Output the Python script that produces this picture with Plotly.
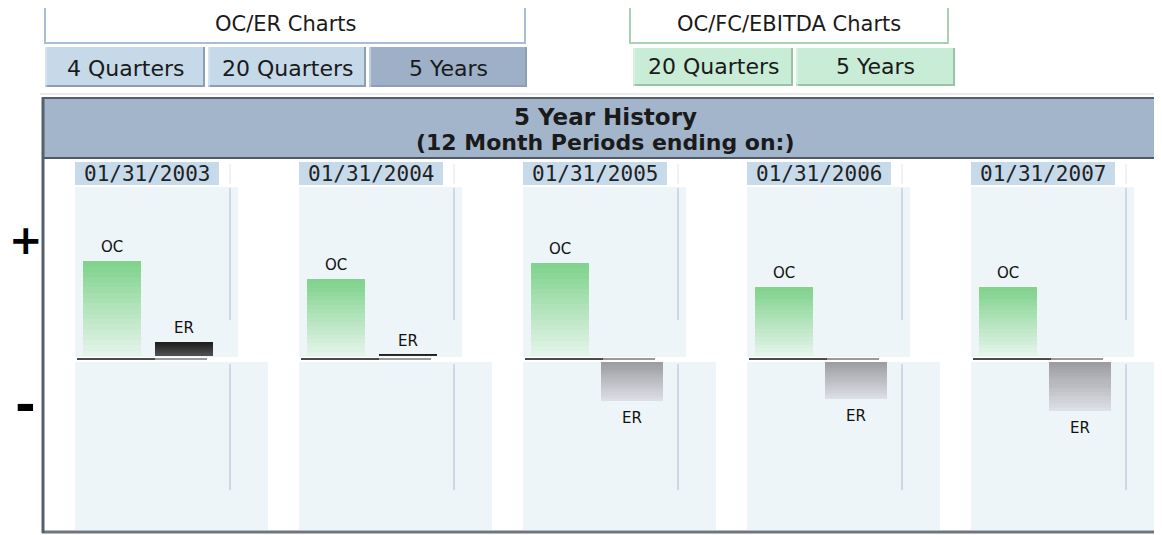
import plotly.graph_objects as go

# ---------------- data ----------------
periods = ["01/31/2003", "01/31/2004", "01/31/2005", "01/31/2006", "01/31/2007"]
oc_values = [95, 77, 93, 69, 69]
er_values = [14, 1.5, -39, -37, -49]
series_labels = ["OC", "ER"]
oc_er_buttons = ["4 Quarters", "20 Quarters", "5 Years"]
ebitda_buttons = ["20 Quarters", "5 Years"]
oc_er_title = "OC/ER Charts"
ebitda_title = "OC/FC/EBITDA Charts"
header_title = "5 Year History"
header_sub = "(12 Month Periods ending on:)"

# ---------------- layout helpers ----------------
OFF = 8                 # page body margin
W, H = 1162 - OFF, 535 - OFF
SW = 1162               # screen width (for decorations)
PITCH = 224.0           # px between period panels
FIRST_OC_PX = 112.0     # screen px centre of first OC bar
ER_OFFSET = 72.0 / PITCH


def px(x):
    return (x - OFF) / W


def py(y):
    return 1 - (y - OFF) / H


def hexmix(c1, c2, t):
    a = [int(c1[i:i + 2], 16) for i in (1, 3, 5)]
    b = [int(c2[i:i + 2], 16) for i in (1, 3, 5)]
    return "#%02x%02x%02x" % tuple(round(a[k] + (b[k] - a[k]) * t) for k in range(3))


shapes = []
annotations = []


def rect(x0, y0, x1, y1, fill, line_color=None, lw=0):
    shapes.append(dict(type="rect", xref="paper", yref="paper", layer="below",
                       x0=px(x0), x1=px(x1), y0=py(y1), y1=py(y0),
                       fillcolor=fill,
                       line=dict(color=line_color or fill, width=lw)))


def hline(x0, x1, y, color, w=1):
    shapes.append(dict(type="line", xref="paper", yref="paper", layer="below",
                       x0=px(x0), x1=px(x1), y0=py(y), y1=py(y),
                       line=dict(color=color, width=w)))


def vline(x, y0, y1, color, w=1):
    shapes.append(dict(type="line", xref="paper", yref="paper", layer="below",
                       x0=px(x), x1=px(x), y0=py(y0), y1=py(y1),
                       line=dict(color=color, width=w)))


def text(x, y, s, size, bold=False, family="DejaVu Sans", color="#1a1a1a"):
    annotations.append(dict(xref="paper", yref="paper", x=px(x), y=py(y),
                            text=("<b>%s</b>" % s) if bold else s, showarrow=False,
                            xanchor="center", yanchor="middle", borderpad=0,
                            font=dict(family=family, size=size, color=color)))


# ---------------- top buttons ----------------
rect(45, 5, 525, 43, "#ffffff", "#a9bdd6", 2)
text(285, 24, oc_er_title, 21)
btn_x = [(45, 205), (208, 366), (369, 527)]
for k, (a, b) in enumerate(btn_x):
    sel = (k == len(btn_x) - 1)
    rect(a, 47, b, 87, "#9db0c7" if sel else "#c5d9e9")
    hline(a, b, 86, "#8e9fb3", 2)
    vline(b - 1, 47, 87, "#8e9fb3", 2)
    vline(a + 1, 47, 87, "#e4eef6", 1)
    text((a + b) / 2, 68, oc_er_buttons[k], 22)

rect(630, 5, 948, 43, "#ffffff", "#a8d0b2", 2)
text(789, 24, ebitda_title, 21)
gbtn_x = [(633, 793), (796, 955)]
for k, (a, b) in enumerate(gbtn_x):
    rect(a, 48, b, 86, "#c8ecd6")
    hline(a, b, 85, "#98c4a6", 2)
    vline(b - 1, 48, 86, "#98c4a6", 2)
    vline(a + 1, 48, 86, "#e6f7ec", 1)
    text((a + b) / 2, 67, ebitda_buttons[k], 22)

hline(40, SW, 94, "#ebebeb", 2)

# ---------------- container & header ----------------
rect(44, 99, SW + 5, 157, "#a3b5cb")
hline(42, SW, 98, "#56606c", 2)
hline(42, SW, 158, "#4e5866", 2)
hline(42, SW, 532, "#6c7682", 3)
vline(43, 97, 533, "#56606c", 3)
text(605, 117, header_title, 23, bold=True)
text(605, 142, header_sub, 22, bold=True)

text(26, 240, "+", 40, bold=True, color="#000000")
text(25, 405, "-", 50, bold=True, color="#000000")

# ---------------- period panels ----------------
panel_bg = "#edf5f8"
for i, per in enumerate(periods):
    x0 = FIRST_OC_PX - 37 + PITCH * i
    rect(x0, 162, x0 + 144, 185, "#c6daea")
    text(x0 + 72, 174, per, 21, family="DejaVu Sans Mono", color="#222222")
    rect(x0, 187, x0 + 163, 357, panel_bg)
    rect(x0, 362, x0 + 193, 530, panel_bg)
    vline(x0 + 155, 164, 184, "#dfe6ee", 1)
    vline(x0 + 155, 188, 320, "#c3cfdf", 1.5)
    vline(x0 + 155, 364, 490, "#c3cfdf", 1.5)
    hline(x0 + 2, x0 + 80, 359, "#4a4a4a", 2)
    hline(x0 + 80, x0 + 132, 359, "#9a9a9a", 2)

# ---------------- bars (gradient built from stacked bands) ----------------
N = 18
xs_oc = [i for i in range(len(periods))]
xs_er = [i + ER_OFFSET for i in range(len(periods))]

traces = []


def gradient_bars(xs, vals, yaxis, c_base, c_end, width):
    for k in range(N):
        t = (k + 0.5) / N
        traces.append(go.Bar(
            x=xs, y=[v / N for v in vals], base=[v * k / N for v in vals],
            yaxis=yaxis, width=width, marker=dict(color=hexmix(c_base, c_end, t),
                                                 line=dict(width=0)),
            showlegend=False, hoverinfo="skip"))


gradient_bars(xs_oc, oc_values, "y", "#e6f5ec", "#7ed28a", 58 / PITCH)

er_pos_x = [x for x, v in zip(xs_er, er_values) if v >= 0]
er_pos_v = [v for v in er_values if v >= 0]
er_neg_x = [x for x, v in zip(xs_er, er_values) if v < 0]
er_neg_v = [v for v in er_values if v < 0]
gradient_bars(er_pos_x, er_pos_v, "y", "#555555", "#1c1c1c", 58 / PITCH)
gradient_bars(er_neg_x, er_neg_v, "y2", "#9b9b9f", "#dfe1e8", 62 / PITCH)

fig = go.Figure(traces)

lab_font = dict(family="DejaVu Sans", size=15, color="#111111")
for x, v in zip(xs_oc, oc_values):
    annotations.append(dict(x=x, y=v, xref="x", yref="y", text=series_labels[0],
                            showarrow=False, yanchor="bottom", yshift=3, font=lab_font))
for x, v in zip(xs_er, er_values):
    if v >= 0:
        annotations.append(dict(x=x, y=v, xref="x", yref="y", text=series_labels[1],
                                showarrow=False, yanchor="bottom", yshift=3, font=lab_font))
    else:
        annotations.append(dict(x=x, y=v, xref="x", yref="y2", text=series_labels[1],
                                showarrow=False, yanchor="top", yshift=-6, font=lab_font))

fig.update_layout(
    width=W, height=H, margin=dict(l=0, r=0, t=0, b=0),
    paper_bgcolor="#ffffff", plot_bgcolor="rgba(0,0,0,0)",
    barmode="overlay", bargap=0, showlegend=False,
    xaxis=dict(domain=[0, 1],
               range=[(OFF - FIRST_OC_PX) / PITCH, (OFF + W - FIRST_OC_PX) / PITCH],
               visible=False, fixedrange=True, anchor="y"),
    yaxis=dict(domain=[py(356), py(187)], range=[0, 169], visible=False,
               fixedrange=True, anchor="x"),
    yaxis2=dict(domain=[py(530), py(362)], range=[-168, 0], visible=False,
                fixedrange=True, anchor="x"),
    shapes=shapes, annotations=annotations,
)

fig.write_html("out.html", config=dict(displayModeBar=False))
